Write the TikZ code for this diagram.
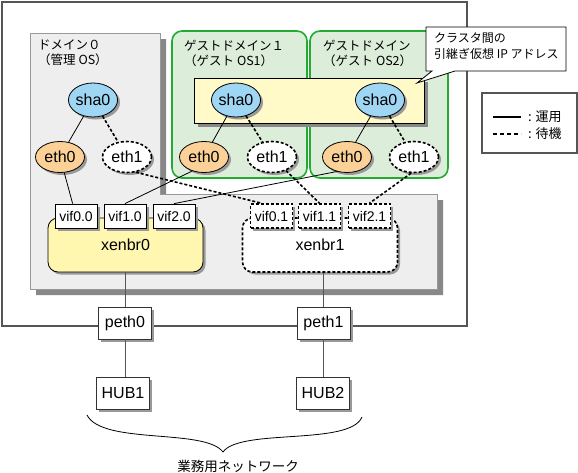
\documentclass[tikz,border=0pt]{standalone}
\usepackage{fontspec}
\setmainfont{Liberation Sans}
\newfontfamily\jp{Noto Sans CJK JP}
\usetikzlibrary{shapes.geometric,shadows,calc}
\definecolor{bggray}{HTML}{EEEEEE}
\definecolor{boxborder}{HTML}{999999}
\definecolor{bigshadow}{HTML}{888888}
\definecolor{nodeshadow}{HTML}{999999}
\definecolor{guestfill}{HTML}{DCEDDA}
\definecolor{guestgreen}{HTML}{22AA33}
\definecolor{hayellow}{HTML}{FFFAC8}
\definecolor{bryellow}{HTML}{FFF6B0}
\definecolor{shablue}{HTML}{9FD6F4}
\definecolor{ethorange}{HTML}{FCD198}
\definecolor{outerline}{HTML}{555555}
\definecolor{wireline}{HTML}{555555}
\tikzset{
  shad/.style={drop shadow={shadow xshift=2.5pt, shadow yshift=-2.5pt, fill=nodeshadow, opacity=1}},
  dashln/.style={line width=1.6pt, dash pattern=on 3pt off 2pt},
  solidln/.style={line width=0.8pt},
  ell/.style={ellipse, draw=black, line width=0.8pt, minimum width=49pt, minimum height=33pt, inner sep=0pt, font=\fontsize{16}{19}\selectfont, shad},
  shanode/.style={ell, fill=shablue, minimum height=34pt},
  ethact/.style={ell, fill=ethorange, minimum height=31pt},
  ethstb/.style={ell, fill=white, minimum height=31pt, dashln},
  vifbox/.style={rectangle, draw=black, line width=0.8pt, fill=white, minimum width=42pt, minimum height=24pt, inner sep=0pt, font=\fontsize{14}{16}\selectfont, shad},
  vifstb/.style={vifbox, dashln},
  brbox/.style={rectangle, rounded corners=10pt, draw=black, line width=0.8pt, minimum width=155pt, minimum height=54pt, font=\fontsize{16}{19}\selectfont, shad},
  hwbox/.style={rectangle, draw=black!80, line width=0.8pt, fill=white, minimum width=53pt, minimum height=32pt, inner sep=0pt, font=\fontsize{16}{19}\selectfont, shad},
  jptext/.style={font=\jp\fontsize{12.5}{15}\selectfont, inner sep=0pt, align=left, anchor=north west},
  guestbox/.style={draw=guestgreen, line width=1.6pt, fill=guestfill, rounded corners=10pt},
}
\begin{document}
\begin{tikzpicture}[x=1pt,y=-1pt]
\useasboundingbox (0,0) rectangle (578,472);
% outer frame
\draw[outerline, line width=1.1pt] (2,2) rectangle (467,326);
% domain 0 + bridge area
\fill[bigshadow] (36,39) -- (166,39) -- (166,200) -- (443,200) -- (443,295) -- (36,295) -- cycle;
\draw[boxborder, fill=bggray, line width=0.8pt] (30,33) -- (160,33) -- (160,194) -- (437,194) -- (437,289) -- (30,289) -- cycle;
% guest domains
\draw[guestbox] (172,31) rectangle (307,178);
\draw[guestbox] (310,31) rectangle (448,178);
% yellow highlight
\fill[bigshadow] (198,82) rectangle (428,127);
\draw[black, line width=0.8pt, fill=hayellow] (194,78) rectangle (424,123);
% domain labels
\node[jptext] (d0lbl) at (38,40) {ドメイン０\\（管理 OS）};
\node[jptext] (g1lbl) at (184,40) {ゲストドメイン１\\（ゲスト OS1）};
\node[jptext] (g2lbl) at (323,40) {ゲストドメイン\\（ゲスト OS2）};
% callout
\draw[black, line width=0.8pt, fill=white] (426,27) -- (566,27) -- (566,71) -- (455,71) -- (417,83) -- (432,71) -- (426,71) -- cycle;
\node[font=\jp\fontsize{12}{16}\selectfont, inner sep=0pt, align=left, anchor=north west] (callout) at (434,33) {クラスタ間の\\引継ぎ仮想 IP アドレス};
% legend
\node[draw=outerline, line width=1.1pt, fill=white, minimum width=95pt, minimum height=60pt] (legend) at (529.5,123) {};
\coordinate (lsa) at (493,117);
\coordinate (lsb) at (521,117);
\coordinate (lda) at (493,134);
\coordinate (ldb) at (521,134);
\draw[line width=1.6pt] (lsa) -- (lsb);
\draw[line width=1.6pt, dash pattern=on 4pt off 3pt] (lda) -- (ldb);
\node[font=\jp\fontsize{13}{15}\selectfont, inner sep=0pt, anchor=west] (leg1) at (528,117) {: 運用};
\node[font=\jp\fontsize{13}{15}\selectfont, inner sep=0pt, anchor=west] (leg2) at (528,134) {: 待機};
% bridges
\node[brbox, fill=bryellow] (xb0) at (125.5,245) {\raisebox{-3pt}{xenbr0}};
\node[brbox, fill=white, dashln] (xb1) at (320,245) {\raisebox{-3pt}{xenbr1}};
% vifs
\node[vifbox] (v00) at (76,216) {vif0.0};
\node[vifbox] (v10) at (125,216) {vif1.0};
\node[vifbox] (v20) at (174,216) {vif2.0};
\node[vifstb] (v01) at (271.5,216) {vif0.1};
\node[vifstb] (v11) at (319.5,216) {vif1.1};
\node[vifstb] (v21) at (369.5,216) {vif2.1};
% interfaces
\node[shanode] (s0) at (93,100) {sha0};
\node[ethact] (e00) at (60,157) {eth0};
\node[ethstb] (e01) at (127,157) {eth1};
\node[shanode] (s1) at (236,100) {sha0};
\node[ethact] (e10) at (204,157) {eth0};
\node[ethstb] (e11) at (272,157) {eth1};
\node[shanode] (s2) at (380,100) {sha0};
\node[ethact] (e20) at (347,157) {eth0};
\node[ethstb] (e21) at (414,157) {eth1};
% connectors
\draw[solidln] (s0) -- (e00);
\draw[dashln] (s0) -- (e01);
\draw[solidln] (s1) -- (e10);
\draw[dashln] (s1) -- (e11);
\draw[solidln] (s2) -- (e20);
\draw[dashln] (s2) -- (e21);
\draw[solidln] (e00) -- (v00);
\draw[dashln] (e01.300) -- ([xshift=-10pt]v01.north);
\draw[solidln] (e10.230) -- (v10.north);
\draw[dashln] (e11) -- (v11.north);
\draw[solidln] (e20.235) -- (v20.north);
\draw[dashln] (e21.260) -- (v21.north);
% physical
\node[hwbox] (p0) at (125,323) {peth0};
\node[hwbox] (p1) at (323.5,323) {peth1};
\node[hwbox] (h1) at (123,393) {HUB1};
\node[hwbox] (h2) at (323,393) {HUB2};
\draw[wireline, line width=0.8pt] (xb0.south -| p0) -- (p0);
\draw[wireline, line width=0.8pt] (xb1.south -| p1) -- (p1);
\draw[wireline, line width=0.8pt] (p0.south) -- (p0.south |- h1.north);
\draw[wireline, line width=0.8pt] (p1.south) -- (p1.south |- h2.north);
% brace
\coordinate (bl) at (87,415);
\coordinate (bt) at (223,452);
\coordinate (br) at (362,417);
\draw[line width=0.8pt] (bl) .. controls (102,445) and (205,428) .. (bt);
\draw[line width=0.8pt] (bt) .. controls (240,428) and (350,446) .. (br);
\node[font=\jp\fontsize{13.5}{15}\selectfont, inner sep=0pt] (netlbl) at (238,466) {業務用ネットワーク};
\end{tikzpicture}
\end{document}
